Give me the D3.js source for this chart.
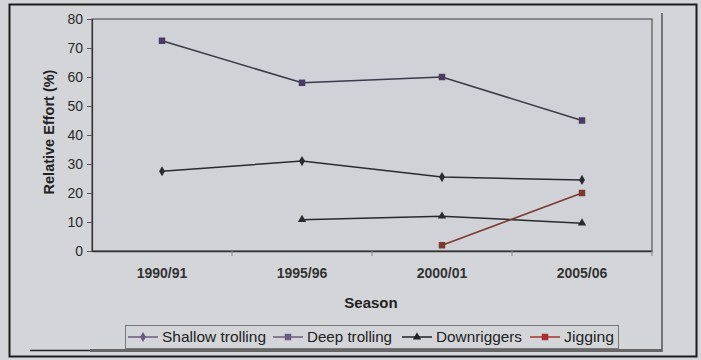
<!DOCTYPE html>
<html>
<head>
<meta charset="utf-8">
<script src="https://cdn.jsdelivr.net/npm/d3@7"></script>
<style>
  html, body { margin: 0; padding: 0; background: #d3d5d9; }
  svg { display: block; font-family: "Liberation Sans", Arial, sans-serif; }
</style>
</head>
<body>
<svg id="chart" width="701" height="360"></svg>
<script>
// Seasons on the category axis
const seasons = ["1990/91", "1995/96", "2000/01", "2005/06"];
// Relative effort (%) per fishing method; null = method not in use that season
const shallowTrolling = [27.5, 31, 25.5, 24.5];
const deepTrolling    = [72.5, 58, 60, 45];
const downriggers     = [null, 10.8, 12, 9.6];
const jigging         = [null, null, 2, 20];
const yTicks = [0, 10, 20, 30, 40, 50, 60, 70, 80];

const seriesList = [
  { name: "Shallow trolling", values: shallowTrolling, color: "#2a2a30", legendColor: "#6b5a80", marker: "diamond" },
  { name: "Deep trolling",    values: deepTrolling,    color: "#3a3a48", legendColor: "#6b5a80", marker: "square", markerColor: "#4a3a66" },
  { name: "Downriggers",      values: downriggers,     color: "#2a2a2a", legendColor: "#222", marker: "triangle" },
  { name: "Jigging",          values: jigging,         color: "#7a3a30", legendColor: "#a83030", marker: "square", markerColor: "#7a3a30" }
];

const svg = d3.select("#chart");
const plot = { left: 92, top: 19, right: 652, bottom: 251 };

// Outer frame and inner chart area
svg.append("rect").attr("x", 9.5).attr("y", 4.5).attr("width", 687).attr("height", 352)
  .attr("fill", "#d3d5d9").attr("stroke", "#1c1c1c").attr("stroke-width", 2);
svg.append("line").attr("x1", 662).attr("x2", 662).attr("y1", 13).attr("y2", 352)
  .attr("stroke", "#555").attr("stroke-width", 1.5);
svg.append("line").attr("x1", 30).attr("x2", 90).attr("y1", 350.5).attr("y2", 350.5)
  .attr("stroke", "#222").attr("stroke-width", 1.5);
svg.append("line").attr("x1", 90).attr("x2", 662).attr("y1", 350.5).attr("y2", 350.5)
  .attr("stroke", "#666").attr("stroke-width", 3);

// Plot area
svg.append("rect").attr("x", plot.left).attr("y", plot.top)
  .attr("width", plot.right - plot.left).attr("height", plot.bottom - plot.top)
  .attr("fill", "#d0d2d7").attr("stroke", "#555").attr("stroke-width", 1.2);

const x = d3.scaleBand().domain(seasons).range([plot.left, plot.right]);
const y = d3.scaleLinear().domain([0, 80]).range([plot.bottom, plot.top]);
const cx = s => x(s) + x.bandwidth() / 2;

// Y axis
const yAxis = svg.append("g").attr("transform", `translate(${plot.left},0)`)
  .call(d3.axisLeft(y).tickValues(yTicks).tickSize(5).tickPadding(4));
yAxis.select(".domain").attr("stroke", "#333").attr("stroke-width", 1.2);
yAxis.selectAll(".tick line").attr("stroke", "#555");
yAxis.selectAll(".tick text").attr("font-size", 14).attr("fill", "#2a2a2a")
  .attr("font-family", "Liberation Sans, Arial, sans-serif");

// X axis
const xAxis = svg.append("g").attr("transform", `translate(0,${plot.bottom})`)
  .call(d3.axisBottom(x).tickSize(0).tickPadding(17));
xAxis.select(".domain").attr("stroke", "#333").attr("stroke-width", 1.5);
xAxis.selectAll(".tick text").attr("font-size", 14).attr("font-weight", "bold")
  .attr("fill", "#333").attr("font-family", "Liberation Sans, Arial, sans-serif");
// Category separator ticks
svg.append("g").selectAll("line").data(seasons)
  .join("line")
  .attr("x1", (d, i) => plot.left + x.bandwidth() * (i + 1))
  .attr("x2", (d, i) => plot.left + x.bandwidth() * (i + 1))
  .attr("y1", plot.bottom).attr("y2", plot.bottom + 5)
  .attr("stroke", "#888");

// Axis titles
svg.append("text").attr("x", 371).attr("y", 308).attr("text-anchor", "middle")
  .attr("font-size", 15).attr("font-weight", "bold").attr("fill", "#222").text("Season");
svg.append("text").attr("transform", "translate(54,132) rotate(-90)")
  .attr("text-anchor", "middle").attr("font-size", 14.5).attr("font-weight", "bold")
  .attr("fill", "#222").text("Relative Effort (%)");

// Marker shapes
const symbolOf = m => m === "diamond" ? d3.symbolDiamond : m === "square" ? d3.symbolSquare : d3.symbolTriangle;
const sizeOf = m => m === "diamond" ? 30 : m === "square" ? 42 : 30;

// Lines and markers
const line = d3.line().defined(d => d.v != null).x(d => cx(d.s)).y(d => y(d.v));
seriesList.forEach(ser => {
  const pts = seasons.map((s, i) => ({ s, v: ser.values[i] }));
  svg.append("path").datum(pts).attr("d", line).attr("fill", "none")
    .attr("stroke", ser.color).attr("stroke-width", 1.5);
  svg.append("g").selectAll("path").data(pts.filter(d => d.v != null)).join("path")
    .attr("transform", d => `translate(${cx(d.s)},${y(d.v)})`)
    .attr("d", d3.symbol().type(symbolOf(ser.marker)).size(sizeOf(ser.marker)))
    .attr("fill", ser.markerColor || ser.color);
});

// Legend
const legend = svg.append("g");
legend.append("rect").attr("x", 125.5).attr("y", 325.5).attr("width", 493).attr("height", 23)
  .attr("fill", "#d3d5d9").attr("stroke", "#777").attr("stroke-width", 1);
const legendX = [128, 273, 402, 530];
const legendTextW = [104, 85, 86, 50];
seriesList.forEach((ser, i) => {
  const g = legend.append("g").attr("transform", `translate(${legendX[i]},337)`);
  g.append("line").attr("x1", 0).attr("x2", 30).attr("stroke", ser.legendColor).attr("stroke-width", 1.5);
  g.append("path").attr("transform", "translate(15,0)")
    .attr("d", d3.symbol().type(symbolOf(ser.marker)).size(sizeOf(ser.marker)))
    .attr("fill", ser.legendColor);
  g.append("text").attr("x", 34).attr("y", 5).attr("font-size", 14.5).attr("fill", "#222")
    .attr("textLength", legendTextW[i]).attr("lengthAdjust", "spacingAndGlyphs").text(ser.name);
});
</script>
</body>
</html>
